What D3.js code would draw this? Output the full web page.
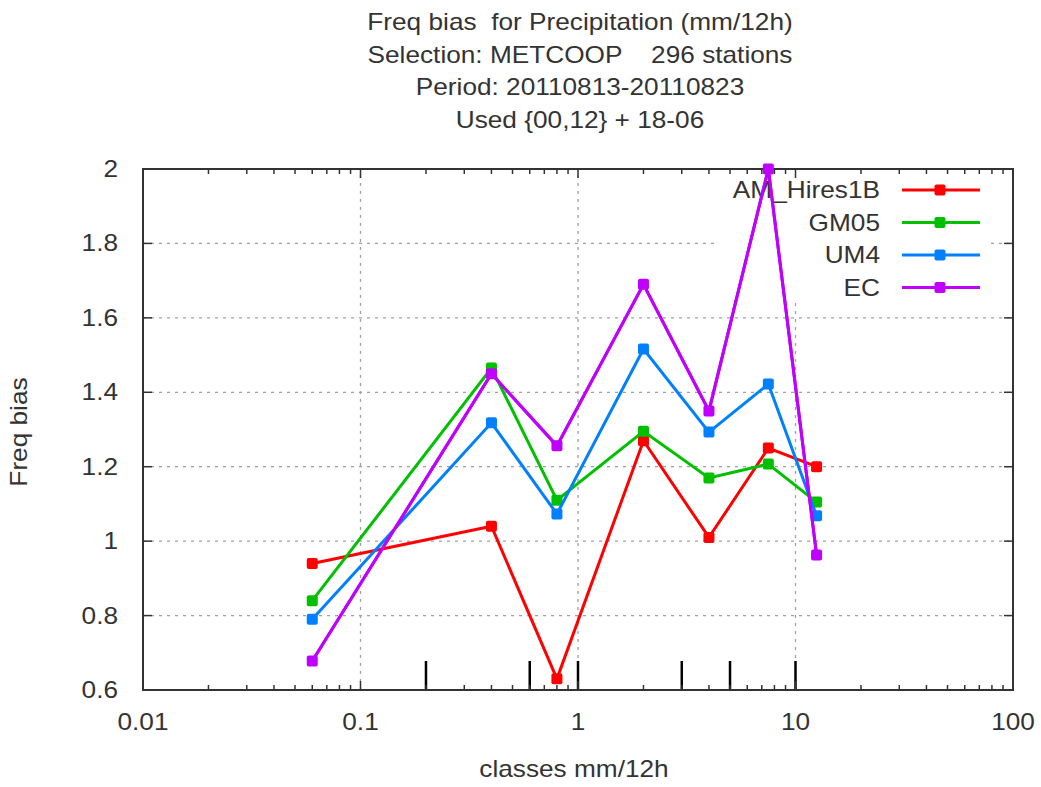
<!DOCTYPE html>
<html><head><meta charset="utf-8">
<script src="https://cdn.jsdelivr.net/npm/d3@7"></script>
<style>body{margin:0;background:#fff}svg{display:block}text{font-family:"Liberation Sans",Arial,sans-serif;fill:#333;white-space:pre}</style>
</head><body>
<script>
const titleLines = ["Freq bias  for Precipitation (mm/12h)", "Selection: METCOOP    296 stations", "Period: 20110813-20110823", "Used {00,12} + 18-06"];
const xValues = [0.06, 0.4, 0.8, 2, 4, 7.5, 12.5];
const classBounds = [0.2, 0.6, 1, 3, 5, 10];
const seriesNames = ["AM_Hires1B", "GM05", "UM4", "EC"];
const seriesColors = ["#ff0000", "#00c000", "#0080ff", "#c000ff"];
const amHires = [0.94, 1.04, 0.63, 1.27, 1.01, 1.25, 1.20];
const gm05 = [0.84, 1.465, 1.11, 1.295, 1.17, 1.207, 1.105];
const um4 = [0.79, 1.318, 1.073, 1.516, 1.293, 1.422, 1.068];
const ec = [0.678, 1.45, 1.256, 1.69, 1.35, 2.0, 0.963];
const xTicks = [0.01, 0.1, 1, 10, 100];
const xTickLabels = ["0.01", "0.1", "1", "10", "100"];
const yTicks = [0.6, 0.8, 1, 1.2, 1.4, 1.6, 1.8, 2];
const yTickLabels = ["0.6", "0.8", "1", "1.2", "1.4", "1.6", "1.8", "2"];
const seriesData = [amHires, gm05, um4, ec];

const W = 1041, H = 787;
const FS = 23, SX = 1.14;
const m = {l:143, r:1013, t:169, b:690};
const svg = d3.select("body").append("svg").attr("width", W).attr("height", H);
const x = d3.scaleLog().domain([0.01, 100]).range([m.l, m.r]);
const y = d3.scaleLinear().domain([0.6, 2]).range([m.b, m.t]);

function label(px, py, txt, anchor, rot) {
  return svg.append("text")
    .attr("transform", `translate(${px},${py})` + (rot ? ` rotate(${rot})` : "") + ` scale(${SX},1)`)
    .attr("text-anchor", anchor).attr("font-size", FS).text(txt);
}

// grid
const grid = svg.append("g").attr("stroke", "#a0a0a0").attr("stroke-width", 1.3).attr("stroke-dasharray", "3,5");
yTicks.filter(v => v > 0.6 && v < 2).forEach(v => {
  grid.append("line").attr("x1", m.l).attr("x2", m.r).attr("y1", y(v)).attr("y2", y(v));
});
xTicks.filter(v => v > 0.01 && v < 100).forEach(v => {
  grid.append("line").attr("x1", x(v)).attr("x2", x(v)).attr("y1", m.b).attr("y2", m.t);
});

// legend background box (hides grid)
svg.append("rect").attr("x", 716).attr("y", 172).attr("width", 274).attr("height", 130).attr("fill", "#fff");

// class boundary ticks
classBounds.forEach(v => {
  svg.append("line").attr("x1", x(v)).attr("x2", x(v)).attr("y1", m.b).attr("y2", m.b - 29)
    .attr("stroke", "#000").attr("stroke-width", 2.5);
});

// axes frame
const axG = svg.append("g").attr("stroke", "#333").attr("stroke-width", 1.5);
const minors = [];
for (let d = 0.01; d < 100; d *= 10) for (let k = 2; k <= 9; k++) minors.push(d * k);
minors.forEach(v => {
  axG.append("line").attr("x1", x(v)).attr("x2", x(v)).attr("y1", m.b).attr("y2", m.b - 5);
  axG.append("line").attr("x1", x(v)).attr("x2", x(v)).attr("y1", m.t).attr("y2", m.t + 5);
});
xTicks.forEach(v => {
  axG.append("line").attr("x1", x(v)).attr("x2", x(v)).attr("y1", m.b).attr("y2", m.b - 9);
  axG.append("line").attr("x1", x(v)).attr("x2", x(v)).attr("y1", m.t).attr("y2", m.t + 9);
});
yTicks.forEach(v => {
  axG.append("line").attr("x1", m.l).attr("x2", m.l + 9).attr("y1", y(v)).attr("y2", y(v));
  axG.append("line").attr("x1", m.r).attr("x2", m.r - 9).attr("y1", y(v)).attr("y2", y(v));
});
svg.append("rect").attr("x", m.l).attr("y", m.t).attr("width", m.r - m.l).attr("height", m.b - m.t)
  .attr("fill", "none").attr("stroke", "#333").attr("stroke-width", 2);

// tick labels
xTicks.forEach((v, i) => label(x(v), 730, xTickLabels[i], "middle"));
yTicks.forEach((v, i) => label(118, y(v) + 8, yTickLabels[i], "end"));

// axis titles
label(574, 777, "classes mm/12h", "middle");
label(27, 432, "Freq bias", "middle", -90);

// title
titleLines.forEach((t, i) => label(580, 30 + i * 32.5, t, "middle"));

// series
const line = d3.line().x((d, i) => x(xValues[i])).y(d => y(d));
seriesData.forEach((s, k) => {
  const g = svg.append("g");
  g.append("path").datum(s).attr("d", line).attr("fill", "none").attr("stroke", seriesColors[k]).attr("stroke-width", 3);
  g.selectAll("rect").data(s).enter().append("rect")
    .attr("x", (d, i) => x(xValues[i]) - 5.5).attr("y", d => y(d) - 5.5).attr("width", 11).attr("height", 11)
    .attr("rx", 2).attr("fill", seriesColors[k]);
});

// legend
seriesNames.forEach((n, k) => {
  const ly = 190 + k * 32.5;
  label(880, ly + 8, n, "end");
  svg.append("line").attr("x1", 902).attr("x2", 980).attr("y1", ly).attr("y2", ly).attr("stroke", seriesColors[k]).attr("stroke-width", 3);
  svg.append("rect").attr("x", 934.5).attr("y", ly - 5.5).attr("width", 11).attr("height", 11).attr("rx", 2).attr("fill", seriesColors[k]);
});

// EC line drawn over legend text, as in reference
svg.append("path").datum(ec).attr("d", line).attr("fill", "none").attr("stroke", seriesColors[3]).attr("stroke-width", 3);
</script>
</body></html>
